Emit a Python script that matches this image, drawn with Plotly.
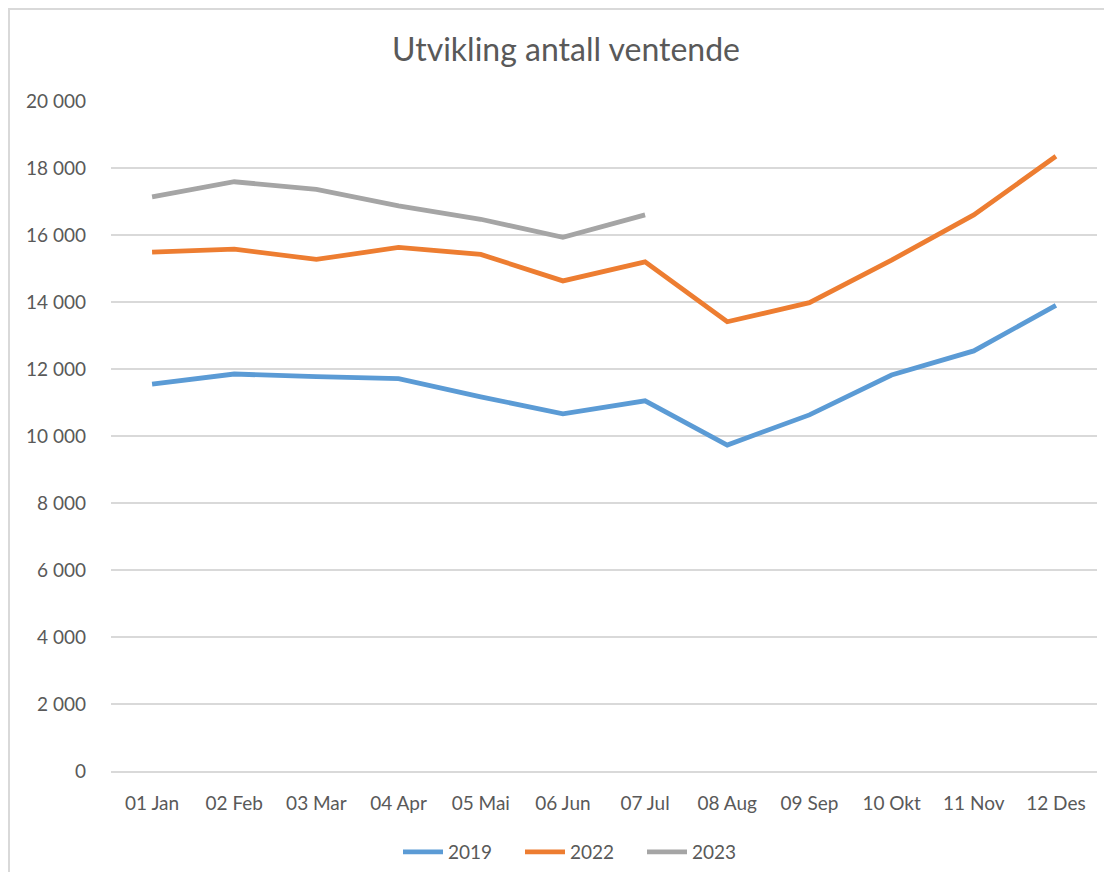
import plotly.graph_objects as go

months = ["01 Jan", "02 Feb", "03 Mar", "04 Apr", "05 Mai", "06 Jun",
          "07 Jul", "08 Aug", "09 Sep", "10 Okt", "11 Nov", "12 Des"]
v2019 = [11550, 11850, 11770, 11710, 11170, 10660, 11050, 9730, 10630, 11820, 12540, 13900]
v2022 = [15490, 15580, 15270, 15630, 15420, 14630, 15200, 13410, 13980, 15250, 16600, 18350]
v2023 = [17140, 17590, 17360, 16870, 16470, 15930, 16600]
y_ticks = [0, 2000, 4000, 6000, 8000, 10000, 12000, 14000, 16000, 18000, 20000]

series = [
    ("2019", v2019, "#5B9BD5"),
    ("2022", v2022, "#ED7D31"),
    ("2023", v2023, "#A5A5A5"),
]

font_family = "Lato, 'Open Sans', sans-serif"
text_color = "#595959"
grid_color = "#D9D9D9"

# page body has an 8px margin, so the figure is a bit smaller than the window
W, H = 1104, 864
L, R, T, B = 103, 15, 93, 101
PW, PH = W - L - R, H - T - B

fig = go.Figure()
for name, vals, color in series:
    fig.add_trace(go.Scatter(
        x=months[:len(vals)],
        y=vals,
        name=name,
        mode="lines",
        line=dict(color=color, width=4.8),
    ))

# outer chart border (Excel chart area)
fig.add_shape(type="rect", xref="paper", yref="paper",
              x0=-(L - 1) / PW, x1=1.05, y0=-0.25, y1=1 + (T - 1) / PH,
              line=dict(color=grid_color, width=2), layer="below")

fig.update_layout(
    width=W, height=H,
    margin=dict(l=L, r=R, t=T, b=B, autoexpand=False),
    paper_bgcolor="white",
    plot_bgcolor="white",
    separators=", ",
    font=dict(family=font_family, size=19, color=text_color),
    title=dict(
        text="Utvikling antall ventende",
        x=558 / W, xanchor="center", xref="container",
        y=1 - 42 / H, yanchor="middle", yref="container",
        font=dict(size=32, color=text_color, family=font_family),
    ),
    xaxis=dict(
        type="category",
        categoryorder="array", categoryarray=months,
        range=[-0.5, 11.5],
        showgrid=False,
        showline=True, linecolor=grid_color, linewidth=2,
        ticks="", ticklabelstandoff=14,
        tickfont=dict(size=19, color=text_color),
    ),
    yaxis=dict(
        range=[0, 20000],
        tickvals=y_ticks,
        tickformat=",d",
        showgrid=True, gridcolor=grid_color, gridwidth=2,
        zeroline=False, showline=False,
        ticks="", ticklabelstandoff=24,
        tickfont=dict(size=19, color=text_color),
    ),
    legend=dict(
        orientation="h",
        xref="container", yref="container",
        x=573 / W, xanchor="center",
        y=1 - 844 / H, yanchor="middle",
        font=dict(size=19, color=text_color),
        itemwidth=40,
        entrywidth=67,
        bgcolor="rgba(0,0,0,0)",
    ),
)

fig.write_html("out.html")
